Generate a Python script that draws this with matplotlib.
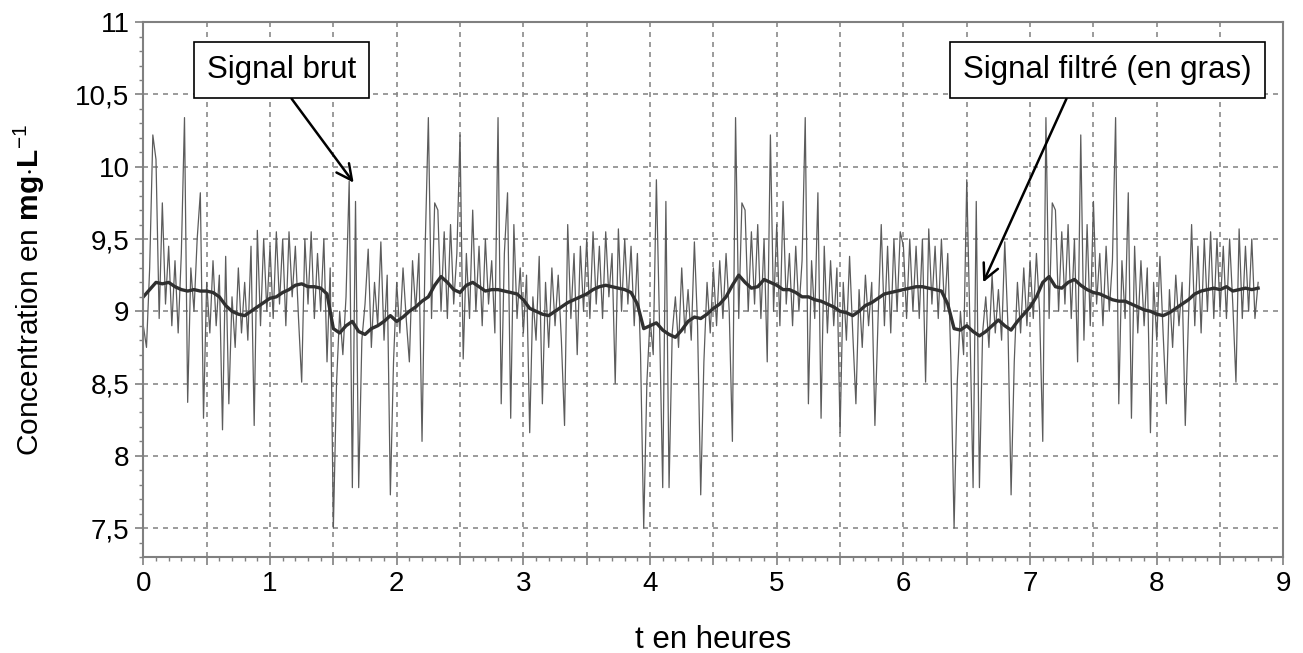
import numpy as np
import matplotlib
matplotlib.use("Agg")
import matplotlib.pyplot as plt
from matplotlib.ticker import MultipleLocator, FuncFormatter

plt.rcParams['font.family'] = ['Liberation Sans', 'DejaVu Sans']
plt.rcParams['mathtext.fontset'] = 'custom'
plt.rcParams['mathtext.rm'] = 'Liberation Sans'
plt.rcParams['mathtext.bf'] = 'Liberation Sans:bold'

# raw signal, one value every 0.025 h (one row = 0.5 h)
raw = [
    8.90, 8.75, 9.30, 10.22, 10.05, 8.95, 9.75, 9.05, 9.45, 8.90, 9.35, 8.85, 9.40, 10.34, 8.37, 9.30, 9.00, 9.50, 9.82, 8.26,
    9.20, 8.85, 9.35, 8.90, 9.25, 8.18, 9.38, 8.36, 9.10, 8.75, 9.30, 8.85, 9.20, 8.80, 9.45, 8.21, 9.56, 8.90, 9.50, 9.00,
    9.45, 8.95, 9.55, 9.05, 9.50, 8.90, 9.55, 9.10, 9.45, 8.95, 8.51, 9.50, 9.05, 9.55, 8.95, 9.40, 9.00, 9.50, 8.65, 9.30,
    7.50, 8.50, 9.00, 8.70, 9.10, 9.90, 7.78, 9.76, 7.78, 8.80, 9.05, 9.43, 8.75, 9.20, 8.90, 9.48, 8.80, 9.25, 7.73, 8.65,
    9.20, 8.85, 9.30, 8.95, 8.65, 9.35, 9.00, 9.40, 8.10, 9.45, 10.34, 8.95, 9.75, 9.70, 9.00, 9.55, 8.95, 9.60, 9.05, 9.40,
    10.22, 8.67, 9.40, 8.95, 9.70, 9.00, 9.45, 8.90, 9.50, 9.05, 9.35, 8.85, 10.34, 8.36, 9.40, 9.82, 8.26, 9.60, 8.95, 9.30,
    8.85, 9.25, 8.16, 9.10, 8.80, 9.38, 8.36, 9.20, 8.75, 9.30, 8.90, 9.25, 8.80, 8.21, 9.60, 8.95, 9.40, 8.70, 9.45, 9.00,
    9.50, 8.95, 9.55, 9.05, 9.45, 8.95, 9.55, 9.10, 9.40, 8.50, 9.57, 9.00, 9.50, 9.05, 9.45, 8.90, 9.40, 8.70, 7.50, 8.51,
    8.95, 8.70, 9.91, 8.90, 7.78, 9.76, 7.78, 8.85, 9.10, 8.75, 9.30, 8.85, 9.15, 8.80, 9.48, 8.90, 7.73, 8.65, 9.20, 8.85,
    9.30, 8.90, 9.35, 8.95, 9.40, 9.00, 8.10, 10.34, 8.95, 9.75, 9.70, 9.00, 9.55, 9.05, 9.60, 8.95, 9.50, 8.65, 10.22, 9.00,
    9.60, 8.90, 9.76, 9.05, 9.40, 8.90, 9.45, 9.00, 9.35, 10.34, 8.36, 9.35, 8.95, 9.82, 8.26, 9.45, 8.85, 9.35, 8.90, 9.30,
    8.16, 9.20, 8.80, 9.38, 8.85, 8.36, 9.15, 8.75, 9.25, 8.90, 9.20, 8.21, 8.95, 9.60, 8.90, 9.45, 8.85, 9.50, 9.00, 9.55,
    9.45, 8.95, 9.50, 9.00, 9.45, 8.95, 9.50, 8.51, 9.57, 9.05, 9.45, 8.95, 9.50, 9.00, 9.40, 8.65, 7.50, 8.51, 9.00, 8.70,
    9.91, 8.90, 7.78, 9.76, 7.78, 8.85, 9.10, 8.75, 9.25, 8.85, 9.15, 8.80, 9.48, 8.90, 7.73, 8.65, 9.20, 8.85, 9.30, 8.90,
    9.35, 8.95, 9.40, 9.00, 8.10, 10.34, 8.95, 9.75, 9.70, 9.00, 9.55, 9.05, 9.60, 8.95, 9.50, 8.65, 10.22, 8.80, 9.60, 8.90,
    9.76, 9.05, 9.40, 8.90, 9.45, 9.00, 9.35, 10.34, 8.36, 9.35, 8.95, 9.82, 8.26, 9.45, 8.85, 9.35, 8.90, 9.30, 8.16, 9.20,
    8.80, 9.38, 8.85, 8.36, 9.15, 8.75, 9.25, 8.90, 9.20, 8.21, 8.95, 9.60, 8.90, 9.45, 8.85, 9.50, 9.00, 9.55, 8.95, 9.50,
    9.00, 9.45, 8.95, 9.50, 9.05, 8.51, 9.57, 8.95, 9.45, 9.00, 9.50, 8.95, 9.20,
]

# filtered signal, one value every 0.05 h
filtered = [
    9.10, 9.15, 9.20, 9.19, 9.20, 9.17, 9.15, 9.14, 9.15, 9.14,
    9.14, 9.13, 9.10, 9.04, 9.00, 8.98, 8.97, 9.00, 9.03, 9.06,
    9.09, 9.10, 9.13, 9.15, 9.18, 9.19, 9.17, 9.17, 9.16, 9.12,
    8.88, 8.85, 8.90, 8.93, 8.86, 8.84, 8.88, 8.90, 8.93, 8.97,
    8.93, 8.96, 9.00, 9.03, 9.07, 9.10, 9.18, 9.24, 9.20, 9.15,
    9.13, 9.18, 9.20, 9.17, 9.14, 9.15, 9.15, 9.14, 9.13, 9.12,
    9.08, 9.02, 9.00, 8.98, 8.97, 9.00, 9.03, 9.06, 9.08, 9.10,
    9.12, 9.15, 9.17, 9.18, 9.17, 9.16, 9.15, 9.13, 9.05, 8.88,
    8.90, 8.92, 8.87, 8.84, 8.82, 8.87, 8.93, 8.96, 8.95, 8.98,
    9.02, 9.05, 9.10, 9.18, 9.25, 9.20, 9.16, 9.17, 9.22, 9.20,
    9.18, 9.15, 9.15, 9.13, 9.10, 9.10, 9.08, 9.07, 9.05, 9.03,
    9.00, 8.99, 8.97, 9.00, 9.04, 9.06, 9.09, 9.12, 9.13, 9.14,
    9.15, 9.16, 9.17, 9.17, 9.16, 9.15, 9.14, 9.05, 8.88, 8.87,
    8.90, 8.86, 8.83, 8.86, 8.90, 8.94, 8.90, 8.87, 8.93, 8.98,
    9.03, 9.10, 9.20, 9.24, 9.17, 9.16, 9.20, 9.22, 9.18, 9.15,
    9.13, 9.12, 9.10, 9.08, 9.07, 9.07, 9.05, 9.03, 9.01, 9.00,
    8.98, 8.97, 8.99, 9.02, 9.05, 9.08, 9.12, 9.14, 9.15, 9.16,
    9.15, 9.17, 9.14, 9.15, 9.16, 9.15, 9.16,
]

t_end = 8.8
t_raw = np.linspace(0, t_end, len(raw))
t_filt = np.linspace(0, t_end, len(filtered))

y_ticks = [7.5, 8, 8.5, 9, 9.5, 10, 10.5, 11]
y_labels = ["7,5", "8", "8,5", "9", "9,5", "10", "10,5", "11"]

fig = plt.figure(figsize=(13.03, 6.53), dpi=100)
ax = fig.add_axes([0.110, 0.147, 0.875, 0.819])

ax.plot(t_raw, raw, color='#5c5c5c', lw=0.9)
ax.plot(t_filt, filtered, color='#303030', lw=2.4)

ax.set_xlim(0, 9)
ax.set_ylim(7.3, 11)

ax.xaxis.set_major_locator(MultipleLocator(0.5))
ax.xaxis.set_minor_locator(MultipleLocator(0.1))
ax.xaxis.set_major_formatter(FuncFormatter(lambda v, p: f"{v:.0f}" if abs(v - round(v)) < 1e-6 else ""))
ax.set_yticks(y_ticks)
ax.set_yticklabels(y_labels)
ax.yaxis.set_minor_locator(MultipleLocator(0.1))

ax.tick_params(which='major', direction='out', length=6, width=1.2, color='#808080', labelsize=20, pad=4)
ax.tick_params(which='minor', direction='out', length=3, width=1, color='#808080')
ax.grid(True, which='major', color='#8a8a8a', linestyle=(0, (3, 3)), lw=1.2)
for s in ax.spines.values():
    s.set_color('#808080')
    s.set_linewidth(1.5)

ax.set_xlabel("t en heures", fontsize=22.5, labelpad=20)
ax.set_ylabel(r"Concentration en $\mathbf{mg{\cdot}L}^{-1}$", fontsize=21.5, labelpad=20)

box = dict(boxstyle='square,pad=0.42', fc='white', ec='black', lw=1.2)
ax.annotate("Signal brut", xy=(1.66, 9.89), xytext=(1.09, 10.67), fontsize=22.5,
            ha='center', va='center', bbox=box,
            arrowprops=dict(arrowstyle='->', color='black', lw=1.8, mutation_scale=28,
                            relpos=(0.5, 0), shrinkA=0, shrinkB=0))
ax.annotate("Signal filtré (en gras)", xy=(6.63, 9.2), xytext=(7.61, 10.67), fontsize=22.5,
            ha='center', va='center', bbox=box,
            arrowprops=dict(arrowstyle='->', color='black', lw=1.8, mutation_scale=28,
                            relpos=(0.38, 0), shrinkA=0, shrinkB=0))

fig.savefig("out.png", dpi=100)
